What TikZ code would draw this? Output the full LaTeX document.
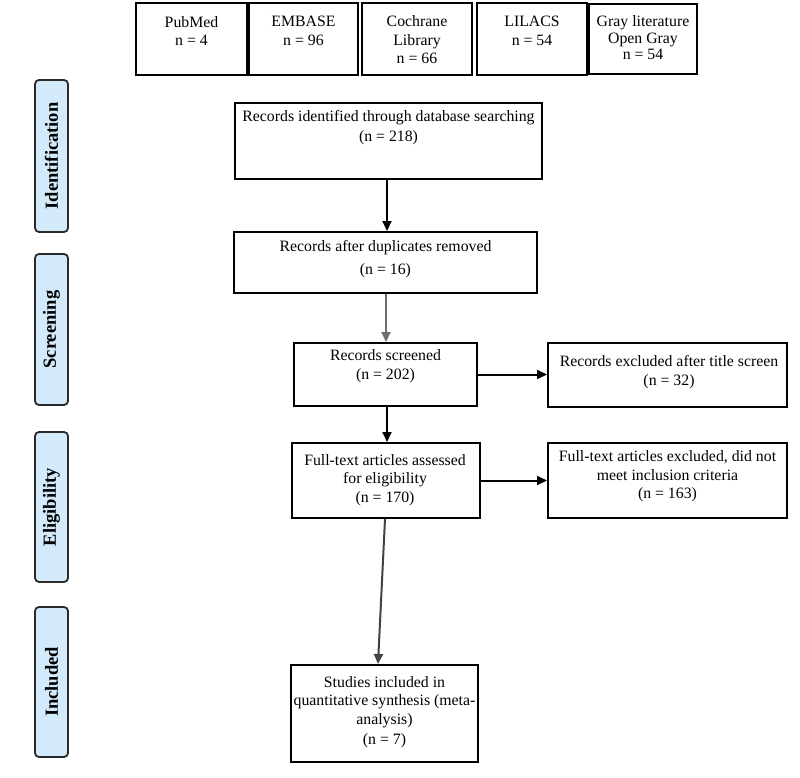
\documentclass[tikz,border=0pt]{standalone}
\usepackage{fontspec}
\setmainfont{Liberation Serif}
\usetikzlibrary{arrows.meta,calc}
\definecolor{sidefill}{HTML}{D2EAFA}
\definecolor{sidedraw}{HTML}{2A2A2A}
\definecolor{arrgray}{HTML}{6E6E6E}
\tikzset{
  boxrect/.style={draw=black, line width=2pt, rectangle, inner sep=0pt},
  boxtext/.style={align=center, inner sep=0pt, font=\fontsize{15.8}{18.5}\selectfont},
  sidebox/.style={draw=sidedraw, line width=1.8pt, fill=sidefill, rounded corners=4pt, inner sep=0pt},
  sidetext/.style={rotate=90, inner sep=0pt, font=\fontsize{18.5}{20}\selectfont\bfseries},
  arr/.style={line width=2pt, -{Triangle[length=10pt,width=9pt]}},
}
\newcommand{\mkbox}[5]{% name, x1, y1, x2, y2
  \node[boxrect, minimum width={(#4-#2)*1pt}, minimum height={(#5-#3)*1pt}] (#1) at ({(#2+#4)/2},{(#3+#5)/2}) {};}
\newcommand{\mkside}[5]{% name, y1, y2, text, textname
  \node[sidebox, minimum width=33pt, minimum height={(#3-#2)*1pt}] (#1) at (51.5,{(#2+#3)/2}) {};
  \node[sidetext] (#5) at (#1.center) {#4};}
\begin{document}
\begin{tikzpicture}[x=1pt,y=-1pt]
\useasboundingbox (0,0) rectangle (800,778);

% top database boxes
\mkbox{pm}{136}{3}{247}{75}
\node[boxtext] (pmt) at (191.5,31) {PubMed\\n = 4};
\mkbox{em}{249}{3}{358}{75}
\node[boxtext] (emt) at (303.5,31) {EMBASE\\n = 96};
\mkbox{co}{362}{3}{472}{75}
\node[boxtext] (cot) at (417,40) {Cochrane\\Library\\n = 66};
\mkbox{li}{477}{3}{587}{75}
\node[boxtext] (lit) at (532,31) {LILACS\\n = 54};
\mkbox{gr}{589}{4}{697}{74}
\node[boxtext, font=\fontsize{15.8}{16.5}\selectfont] (grt) at (643,38) {Gray literature\\Open Gray\\n = 54};

% flow boxes
\mkbox{b1}{235}{103}{542}{179}
\node[boxtext, font=\fontsize{15.8}{19.5}\selectfont] (b1t) at (388.5,127.5) {Records identified through database searching\\(n = 218)};
\mkbox{b2}{234}{232}{537}{293}
\node[boxtext, font=\fontsize{15.8}{23}\selectfont] (b2t) at (385.5,259.5) {Records after duplicates removed\\(n = 16)};
\mkbox{sc}{294}{343}{477}{406}
\node[boxtext] (sct) at (385.5,366) {Records screened\\(n = 202)};
\mkbox{ex1}{548}{343}{787}{407}
\node[boxtext, font=\fontsize{15.8}{19}\selectfont] (ex1t) at (669,372.5) {Records excluded after title screen\\(n = 32)};
\mkbox{ft}{292}{443}{480}{518}
\node[boxtext] (ftt) at (385,480) {Full-text articles assessed\\for eligibility\\(n = 170)};
\mkbox{ex2}{548}{443}{787}{518}
\node[boxtext] (ex2t) at (667.5,476.5) {Full-text articles excluded, did not\\meet inclusion criteria\\(n = 163)};
\mkbox{st}{291}{665}{478}{762}
\node[boxtext] (stt) at (384.5,712) {Studies included in\\quantitative synthesis (meta-\\analysis)\\[2pt](n = 7)};

% side labels
\mkside{sid}{80}{232}{Identification}{sidt}
\mkside{sscr}{254}{405}{Screening}{sscrt}
\mkside{sel}{432}{582}{Eligibility}{selt}
\mkside{sinc}{607}{757}{Included}{sinct}

% connectors
\draw[arr] ([xshift=-1.5pt]b1.south) -- ([xshift=-1.5pt]b1.south |- b2.north);
\draw[arr, draw=arrgray, fill=black] ([xshift=0.5pt]b2.south) -- ([xshift=0.5pt]b2.south |- sc.north);
\draw[arr] ([xshift=1.5pt]sc.south) -- ([xshift=1.5pt]sc.south |- ft.north);
\draw[arr] (sc.east) -- (sc.east -| ex1.west);
\draw[arr] (ft.east) -- (ft.east -| ex2.west);
\draw[arr, draw=arrgray!60!black, fill=black] ([xshift=-1pt]ft.south) -- ([xshift=-6.5pt]st.north);
\end{tikzpicture}
\end{document}
